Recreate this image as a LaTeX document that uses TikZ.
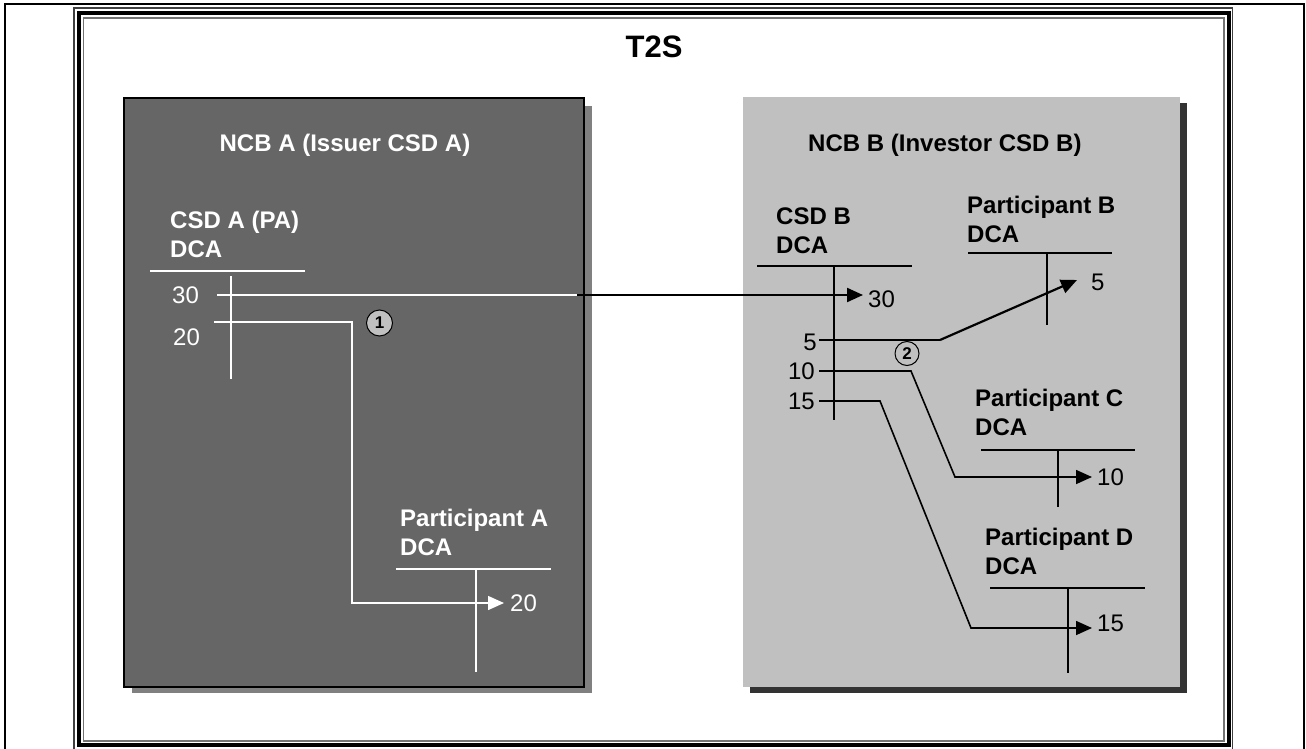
\documentclass[tikz,border=0pt]{standalone}
\usepackage{fontspec}
\setmainfont{Liberation Sans}
\usetikzlibrary{arrows.meta}
\definecolor{darkpanel}{HTML}{666666}
\definecolor{darkshadow}{HTML}{808080}
\definecolor{lightpanel}{HTML}{C0C0C0}
\definecolor{lightshadow}{HTML}{333333}
\begin{document}
\begin{tikzpicture}[x=1pt,y=-1pt,
  lab/.style={inner sep=0pt, font=\bfseries\fontsize{24}{29}\selectfont},
  num/.style={inner sep=0pt, font=\fontsize{24}{29}\selectfont},
  wl/.style={white, line width=1.5pt},
  bl/.style={black, line width=1.6pt},
  arr/.style={-{Triangle[length=16pt,width=14pt]}},
  circ/.style={circle, draw=black, fill=lightpanel, inner sep=0pt, line width=1pt,
    font=\bfseries\fontsize{17}{17}\selectfont}]
\useasboundingbox (0,0) rectangle (1306,749);
\fill[white] (0,0) rectangle (1306,749);
% outer frames
\draw[black, line width=2pt] (5,4.5) rectangle (1304,753);
\draw[black!75, line width=1.2pt] (74,8) rectangle (1232.5,753);
\draw[black, line width=4pt] (79,13) rectangle (1228.5,745);
\draw[black!55, line width=1.2pt] (83.5,18) rectangle (1224,741);
% title
\node[inner sep=0pt, font=\bfseries\fontsize{31}{31}\selectfont, anchor=base] (title) at (654,58) {T2S};
% panels
\fill[darkshadow] (132,106) rectangle (592,693);
\filldraw[fill=darkpanel, draw=black, line width=1.2pt] (124,98) rectangle (584,687);
\fill[lightshadow] (750,103) rectangle (1187,693);
\fill[lightpanel] (743,97) rectangle (1180,687);
% panel titles
\node[lab, white, anchor=base] (ncba) at (345,152) {NCB A (Issuer CSD A)};
\node[lab, anchor=base west] (ncbb) at (808,152) {NCB B (Investor CSD B)};
% CSD A account
\node[lab, white, anchor=base west] (csda1) at (170,228) {CSD A (PA)};
\node[lab, white, anchor=base west] (csda2) at (170,257) {DCA};
\coordinate (csdaL) at (150,271); \coordinate (csdaR) at (305,271);
\coordinate (csdaT) at (231,276); \coordinate (csdaB) at (231,379);
\draw[wl] (csdaL) -- (csdaR);
\draw[wl] (csdaT) -- (csdaB);
\node[num, white, anchor=base west] (a30) at (172,303) {30};
\node[num, white, anchor=base west] (a20) at (173,345) {20};
% Participant A account
\node[lab, white, anchor=base west] (pa1) at (400,526) {Participant A};
\node[lab, white, anchor=base west] (pa2) at (400,555) {DCA};
\coordinate (paL) at (396,569); \coordinate (paR) at (551,569);
\coordinate (paT) at (476,569); \coordinate (paB) at (476,672);
\draw[wl] (paL) -- (paR);
\draw[wl] (paT) -- (paB);
\node[num, white, anchor=base west] (pa20) at (510,611) {20};
% flow 1 : 20 to Participant A
\coordinate (f20s) at (214,322); \coordinate (f20a) at (352,322);
\coordinate (f20b) at (352,603); \coordinate (f20e) at (504,603);
\draw[wl, arr] (f20s) -- (f20a) -- (f20b) -- (f20e);
\node[circ, minimum size=26pt] (c1) at (379.5,323) {1};
% CSD B account
\node[lab, anchor=base west] (csdb1) at (776,224.5) {CSD B};
\node[lab, anchor=base west] (csdb2) at (776,253.5) {DCA};
\coordinate (csdbL) at (757,266); \coordinate (csdbR) at (912,266);
\coordinate (csdbT) at (834,266); \coordinate (csdbB) at (834,420);
\draw[bl] (csdbL) -- (csdbR);
\draw[bl] (csdbT) -- (csdbB);
\node[num, anchor=base west] (b30) at (868,307) {30};
% flow 30 : CSD A to CSD B
\coordinate (f30s) at (217,295); \coordinate (f30m) at (577,295); \coordinate (f30e) at (863,295);
\draw[wl] (f30s) -- (f30m);
\draw[black, line width=2.2pt, arr] (f30m) -- (f30e);
% Participant B account
\node[lab, anchor=base west] (pb1) at (967,213) {Participant B};
\node[lab, anchor=base west] (pb2) at (967,242) {DCA};
\coordinate (pbL) at (968,253); \coordinate (pbR) at (1112,253);
\coordinate (pbT) at (1047,253); \coordinate (pbB) at (1047,325);
\draw[bl] (pbL) -- (pbR);
\draw[bl] (pbT) -- (pbB);
\node[num, anchor=base west] (pb5) at (1091,290) {5};
% Participant C account
\node[lab, anchor=base west] (pc1) at (975,406.5) {Participant C};
\node[lab, anchor=base west] (pc2) at (975,435.5) {DCA};
\coordinate (pcL) at (981,450); \coordinate (pcR) at (1135,450);
\coordinate (pcT) at (1058,450); \coordinate (pcB) at (1058,507);
\draw[bl] (pcL) -- (pcR);
\draw[bl] (pcT) -- (pcB);
\node[num, anchor=base west] (pc10) at (1097,485) {10};
% Participant D account
\node[lab, anchor=base west] (pd1) at (985,545) {Participant D};
\node[lab, anchor=base west] (pd2) at (985,574) {DCA};
\coordinate (pdL) at (990,588); \coordinate (pdR) at (1145,588);
\coordinate (pdT) at (1068,588); \coordinate (pdB) at (1068,673);
\draw[bl] (pdL) -- (pdR);
\draw[bl] (pdT) -- (pdB);
\node[num, anchor=base west] (pd15) at (1097,631) {15};
% debit labels on CSD B
\node[num, anchor=base east] (b5) at (817,350) {5};
\node[num, anchor=base east] (b10) at (815,379) {10};
\node[num, anchor=base east] (b15) at (815,409) {15};
% flows 2
\coordinate (f5s) at (819,340); \coordinate (f5a) at (940,340); \coordinate (f5e) at (1077,280);
\draw[bl] (f5s) -- (f5a);
\draw[black, line width=2.2pt, arr] (f5a) -- (f5e);
\coordinate (f10s) at (819,371); \coordinate (f10a) at (911,371);
\coordinate (f10b) at (955,477); \coordinate (f10e) at (1092,477);
\draw[bl, arr] (f10s) -- (f10a) -- (f10b) -- (f10e);
\coordinate (f15s) at (819,401); \coordinate (f15a) at (880,401);
\coordinate (f15b) at (971,628); \coordinate (f15e) at (1092,628);
\draw[bl, arr] (f15s) -- (f15a) -- (f15b) -- (f15e);
\node[circ, minimum size=24pt] (c2) at (907,353.5) {2};
\end{tikzpicture}
\end{document}
